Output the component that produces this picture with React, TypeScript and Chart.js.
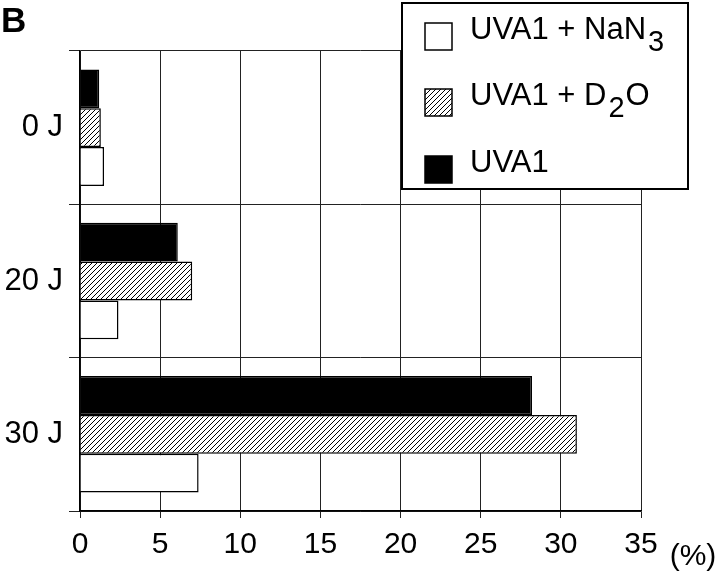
import React, { useEffect, useRef } from 'react';
import { Chart, registerables } from 'chart.js';

Chart.register(...registerables);

const categories = ['0 J', '20 J', '30 J'];
const uva1 = [1.2, 6.1, 28.2];
const uva1D2O = [1.3, 7.0, 31.0];
const uva1NaN3 = [1.5, 2.4, 7.4];
const xMin = 0;
const xMax = 35;
const xStep = 5;

const FONT = '"Liberation Sans", Arial, Helvetica, sans-serif';

function makeHatch(): CanvasPattern | string {
  const c = document.createElement('canvas');
  const s = 5;
  c.width = s;
  c.height = s;
  const g = c.getContext('2d');
  if (!g) return '#888';
  g.fillStyle = '#fff';
  g.fillRect(0, 0, s, s);
  g.strokeStyle = '#000';
  g.lineWidth = 1;
  g.beginPath();
  g.moveTo(0, s);
  g.lineTo(s, 0);
  g.moveTo(-1, 1);
  g.lineTo(1, -1);
  g.moveTo(s - 1, s + 1);
  g.lineTo(s + 1, s - 1);
  g.stroke();
  return g.createPattern(c, 'repeat') || '#888';
}

type Part = { t: string; sub?: boolean };

const legendPlugin = {
  id: 'customLegend',
  afterDraw(chart: any) {
    const ctx = chart.ctx as CanvasRenderingContext2D;
    const ds = chart.data.datasets;
    ctx.save();
    // panel label
    ctx.fillStyle = '#000';
    ctx.font = `bold 35px ${FONT}`;
    ctx.textBaseline = 'alphabetic';
    ctx.textAlign = 'left';
    ctx.fillText('B', 1, 32);
    // unit label
    ctx.font = `30px ${FONT}`;
    ctx.textAlign = 'center';
    ctx.textBaseline = 'middle';
    ctx.fillText('(%)', 693, 557);

    // legend box
    const bx = 402, by = 3, bw = 286, bh = 186;
    ctx.fillStyle = '#fff';
    ctx.fillRect(bx, by, bw, bh);
    ctx.strokeStyle = '#000';
    ctx.lineWidth = 2;
    ctx.strokeRect(bx, by, bw, bh);

    const items: { idx: number; parts: Part[]; y: number }[] = [
      { idx: 2, parts: [{ t: 'UVA1 + NaN' }, { t: '3', sub: true }], y: 39 },
      { idx: 1, parts: [{ t: 'UVA1 + D' }, { t: '2', sub: true }, { t: 'O' }], y: 105 },
      { idx: 0, parts: [{ t: 'UVA1' }], y: 172 },
    ];
    ctx.textAlign = 'left';
    ctx.textBaseline = 'alphabetic';
    items.forEach((it) => {
      const d = ds[it.idx];
      const sx = 425, sy = it.y - 16, sz = 27;
      ctx.fillStyle = d.backgroundColor;
      ctx.fillRect(sx, sy, sz, sz);
      ctx.strokeStyle = '#000';
      ctx.lineWidth = 1.5;
      ctx.strokeRect(sx, sy, sz, sz);
      let x = 470;
      ctx.fillStyle = '#000';
      it.parts.forEach((p) => {
        ctx.font = p.sub ? `29px ${FONT}` : `31px ${FONT}`;
        const yy = p.sub ? it.y + 12 : it.y;
        if (p.sub) x += 2;
        ctx.fillText(p.t, x, yy);
        x += ctx.measureText(p.t).width;
        if (p.sub) x += 1;
      });
    });
    ctx.restore();
  },
};

export default function App() {
  const ref = useRef<HTMLCanvasElement | null>(null);
  useEffect(() => {
    if (!ref.current) return;
    const hatch = makeHatch();
    const chart = new Chart(ref.current, {
      type: 'bar',
      data: {
        labels: categories,
        datasets: [
          { label: 'UVA1', data: uva1, backgroundColor: '#000', borderColor: '#000', borderWidth: 1.5 },
          { label: 'UVA1 + D2O', data: uva1D2O, backgroundColor: hatch as any, borderColor: '#000', borderWidth: 1.5 },
          { label: 'UVA1 + NaN3', data: uva1NaN3, backgroundColor: '#fff', borderColor: '#000', borderWidth: 1.5 },
        ],
      },
      options: {
        indexAxis: 'y',
        responsive: false,
        animation: false,
        devicePixelRatio: 1,
        layout: { padding: { top: 51, right: 79, left: 0, bottom: 0 } },
        datasets: { bar: { categoryPercentage: 0.76, barPercentage: 1.0 } },
        plugins: { legend: { display: false }, tooltip: { enabled: false } },
        scales: {
          x: {
            type: 'linear',
            min: xMin,
            max: xMax,
            ticks: { stepSize: xStep, color: '#000', font: { family: FONT, size: 30 }, padding: 9, maxRotation: 0 },
            grid: { color: '#222', lineWidth: 1, tickLength: 7, tickColor: '#222' },
            border: { display: true, color: '#000', width: 1.5 },
            afterFit: (s: any) => { s.height = 68; },
          },
          y: {
            type: 'category',
            offset: true,
            ticks: { color: '#000', font: { family: FONT, size: 31 }, padding: 6 },
            grid: { offset: true, color: '#222', lineWidth: 1, tickLength: 11, tickColor: '#222' },
            border: { display: true, color: '#000', width: 1.5 },
            afterFit: (s: any) => { s.width = 80; },
          },
        },
      },
      plugins: [legendPlugin],
    });
    return () => chart.destroy();
  }, []);
  return (
    <div style={{ position: 'absolute', left: 0, top: 0, width: 720, height: 579, background: '#fff' }}>
      <canvas ref={ref} width={720} height={579} style={{ display: 'block' }} />
    </div>
  );
}
